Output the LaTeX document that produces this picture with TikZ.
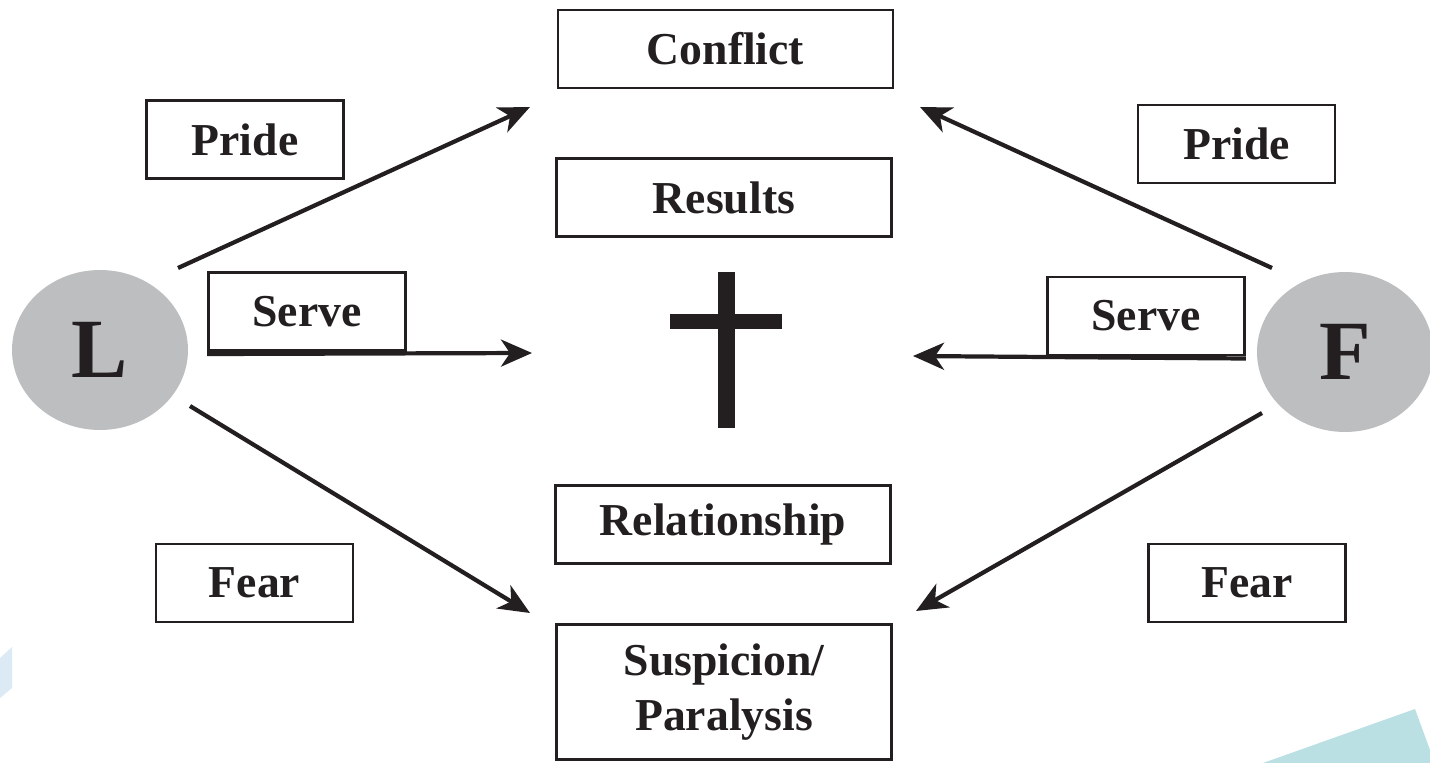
\documentclass[tikz,border=0pt]{standalone}
\usepackage{fontspec}
\setmainfont{Liberation Serif}
\usetikzlibrary{arrows.meta, shapes.geometric}
\definecolor{ink}{HTML}{231F20}
\definecolor{disc}{HTML}{BCBEC0}
\definecolor{paleblue}{HTML}{DCEAF6}
\definecolor{paleteal}{HTML}{BBE0E3}

\begin{document}
\begin{tikzpicture}[x=0.02cm, y=-0.02cm,
    box/.style={draw=ink, line width=1.6pt, inner sep=0pt, align=center,
      font=\fontsize{26}{31}\selectfont\bfseries, text=ink},
    bigbox/.style={box, minimum width=6.7cm, minimum height=1.56cm},
    smallbox/.style={box, minimum width=3.94cm, minimum height=1.56cm},
    person/.style={ellipse, fill=disc, inner sep=0pt, minimum width=3.52cm,
      minimum height=3.2cm, font=\fontsize{48}{50}\selectfont\bfseries, text=ink},
    arrow/.style={color=ink, line width=2.4pt,
      -{Stealth[length=0.62cm, width=0.54cm, inset=0.18cm]}}]
      \useasboundingbox (0,0) rectangle (1430,763);
      \fill[paleblue] (0,658) -- (12,647) -- (12,688) -- (0,698) -- cycle;
      \fill[paleteal] (1263,763) -- (1415,709) -- (1430,750) -- (1430,763) -- cycle;

      \node[person] (L) at (100,350) {L};
      \node[person] (F) at (1345,352) {F};

      \node[bigbox] (conflict) at (725.5,49) {Conflict};
      \node[bigbox] (results) at (724,197.5) {Results};
      \node[bigbox] (relationship) at (723,524.5) {Relationship};
      \node[bigbox, minimum height=2.7cm] (suspicion) at (724,692) {Suspicion/\\Paralysis};

      \node[smallbox] (prideL) at (245,139.5) {Pride};
      \node[smallbox] (prideR) at (1236.5,144) {Pride};
      \node[smallbox] (serveL) at (307,311.5) {Serve};
      \node[smallbox] (serveR) at (1146,316) {Serve};
      \node[smallbox] (fearL) at (254.5,583) {Fear};
      \node[smallbox] (fearR) at (1247,583) {Fear};

      \fill[ink] (718,272) rectangle (735,428);
      \fill[ink] (670,314) rectangle (782,329);

      \coordinate (L-up) at (178,268);
      \coordinate (L-down) at (190,406);
      \coordinate (F-up) at (1272,268);
      \coordinate (F-down) at (1262,413);
      \coordinate (conflict-l) at (530,107);
      \coordinate (conflict-r) at (920,107);
      \coordinate (cross-l) at (532,353);
      \coordinate (cross-r) at (913,356);
      \coordinate (suspicion-l) at (530,613);
      \coordinate (suspicion-r) at (916,611);

      \path[arrow]
      (L-up) edge (conflict-l)
      ([yshift=-1.2pt]serveL.south west) edge (cross-l)
      (L-down) edge (suspicion-l)
      (F-up) edge (conflict-r)
      ([yshift=-1.2pt]serveR.south east) edge (cross-r)
      (F-down) edge (suspicion-r);
    \end{tikzpicture}
\end{document}
